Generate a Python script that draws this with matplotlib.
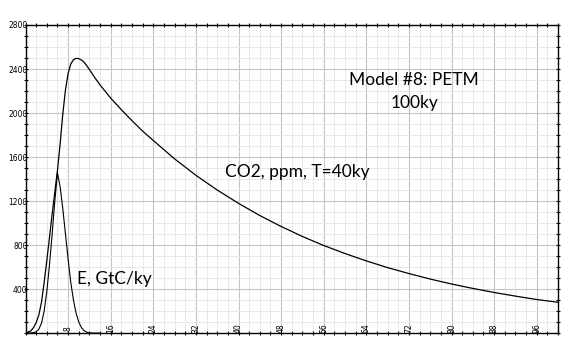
import numpy as np
import matplotlib
matplotlib.use("Agg")
import matplotlib.pyplot as plt

# readings from the picture (t in ky)
t_e = [0, 1, 1.5, 2, 2.5, 3, 3.5, 4, 4.5, 5, 5.5, 6, 6.5, 7, 7.5, 8, 8.5, 9, 9.5, 10, 10.5, 11,
       11.5, 12, 13, 14]
e_vals = [0, 1, 4, 12, 35, 90, 200, 380, 620, 900, 1200, 1455, 1330, 1130, 900, 670, 460, 300, 180,
          100, 50, 22, 8, 2, 0, 0]

t_co2 = [0, 1, 1.5, 2, 2.5, 3, 3.5, 4, 4.5, 5, 5.5, 6, 6.5, 7, 7.5, 8, 8.5, 9, 9.5, 10, 10.5, 11,
         11.5, 12, 13, 14, 16, 18, 20, 22, 24, 28, 32, 36, 40, 44, 48, 52, 56, 60, 64, 68, 72, 76,
         80, 84, 88, 92, 96, 100]
co2_vals = [0, 20, 50, 95, 165, 280, 460, 660, 870, 1080, 1280, 1480, 1720, 1990, 2210, 2360, 2445,
            2485, 2497, 2494, 2482, 2462, 2430, 2395, 2322, 2255, 2135, 2030, 1930, 1835, 1750,
            1583, 1434, 1300, 1179, 1068, 969, 878, 796, 723, 656, 595, 541, 491, 446, 406, 369,
            336, 305, 280]

xmajor = [8, 16, 24, 32, 40, 48, 56, 64, 72, 80, 88, 96]
ymajor = [400, 800, 1200, 1600, 2000, 2400, 2800]

fig = plt.figure(figsize=(5.84, 3.57), dpi=100)
ax = fig.add_axes([0.0437, 0.067, 0.9118, 0.863])

ax.set_xlim(0, 100)
ax.set_ylim(0, 2800)

ax.set_xticks(xmajor)
ax.set_xticks(np.arange(0, 101, 2), minor=True)
ax.set_yticks(ymajor)
ax.set_yticks(np.arange(0, 2801, 100), minor=True)
ax.grid(which="minor", color="#e8e8e8", linewidth=0.7)
ax.grid(which="major", color="#c4c4c4", linewidth=0.8)
ax.set_axisbelow(True)

ax.tick_params(which="both", direction="inout", top=True, right=True, length=3, width=0.8)
ax.tick_params(axis="x", which="major", labelsize=5.5, pad=-5)
ax.tick_params(axis="y", which="major", labelsize=5.5, pad=-3)
for lab in ax.get_xticklabels():
    lab.set_rotation(90)
    lab.set_va("center")
for sp in ax.spines.values():
    sp.set_linewidth(1.0)

ax.plot(t_co2, co2_vals, color="black", linewidth=0.9)
ax.plot(t_e, e_vals, color="black", linewidth=0.8)

fam = ["Lato", "DejaVu Sans"]
ax.text(73, 2300, "Model #8: PETM", ha="center", va="center", fontsize=12.5, family=fam)
ax.text(73, 2090, "100ky", ha="center", va="center", fontsize=12.5, family=fam)
ax.text(51, 1466, "CO2, ppm, T=40ky", ha="center", va="center", fontsize=12.5, family=fam)
ax.text(9.7, 490, "E, GtC/ky", ha="left", va="center", fontsize=12.5, family=fam)

plt.savefig("out.png", dpi=100)
